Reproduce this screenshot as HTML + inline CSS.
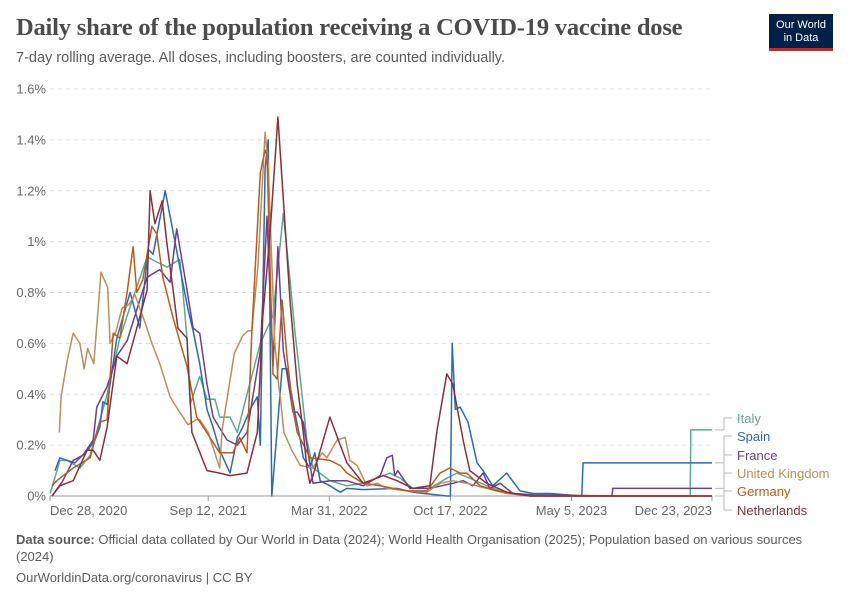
<!DOCTYPE html>
<html><head><meta charset="utf-8"><style>
body{margin:0;background:#fff;width:850px;height:600px;overflow:hidden;font-family:"Liberation Sans",sans-serif}
#title{position:absolute;left:16px;top:14px;font-family:"Liberation Serif",serif;font-weight:bold;font-size:24.5px;color:#4b4b4b;letter-spacing:-0.2px}
#sub{position:absolute;left:16px;top:50px;font-size:14.5px;color:#5b5b5b}
#logo{position:absolute;left:769px;top:14px;width:64px;height:37px;background:#002147;border-bottom:3px solid #ce261e;box-sizing:border-box;color:#fff;font-size:11px;text-align:center;line-height:13px;padding-top:5px}
#foot{position:absolute;left:16px;top:532px;font-size:13px;color:#5b5b5b;line-height:16.5px;width:800px}
#foot2{position:absolute;left:16px;top:570px;font-size:13px;color:#5b5b5b}
svg{position:absolute;left:0;top:0}
</style></head><body>
<div id="title">Daily share of the population receiving a COVID-19 vaccine dose</div>
<div id="sub">7-day rolling average. All doses, including boosters, are counted individually.</div>
<div id="logo">Our World<br>in Data</div>
<div id="foot"><b>Data source:</b> Official data collated by Our World in Data (2024); World Health Organisation (2025); Population based on various sources (2024)</div>
<div id="foot2">OurWorldinData.org/coronavirus | CC BY</div>
<svg id="chart" width="850" height="600"></svg>
<script>
const yTicks=[0,0.2,0.4,0.6,0.8,1,1.2,1.4,1.6];
const yTickLabels=["0%","0.2%","0.4%","0.6%","0.8%","1%","1.2%","1.4%","1.6%"];
const xTickDays=[0,258,458,658,858,1090];
const xTickLabels=["Dec 28, 2020","Sep 12, 2021","Mar 31, 2022","Oct 17, 2022","May 5, 2023","Dec 23, 2023"];
const seriesNames=["Italy","Spain","France","United Kingdom","Germany","Netherlands"];
const seriesColors=["#58ac8c","#286bbb","#6d3e91","#bc8e5a","#c05917","#883039"];
const italyDays=[-3,13,25,46,63,91,112,134,157,173,190,211,216,223,228,244,256,269,277,294,306,322,344,365,382,393,401,410,421,431,459,487,514,558,575,596,624,652,669,690,718,740,761,790,1054,1055,1090];
const italyVals=[0.01,0.14,0.14,0.11,0.16,0.4,0.62,0.78,0.94,0.92,0.9,0.93,0.81,0.62,0.36,0.47,0.38,0.38,0.31,0.31,0.25,0.4,0.6,0.71,1.11,0.85,0.65,0.46,0.22,0.11,0.06,0.04,0.05,0.09,0.07,0.03,0.03,0.07,0.09,0.07,0.04,0.02,0.01,0,0,0.26,0.26];
const spainDays=[5,13,25,38,46,59,71,79,84,91,96,107,129,145,159,167,187,195,211,225,233,244,256,266,277,294,306,315,327,339,344,352,357,363,380,388,401,410,415,426,434,443,459,476,487,514,570,596,652,658,661,666,674,687,702,712,728,751,773,794,822,875,877,1090];
const spainVals=[0.1,0.15,0.14,0.13,0.15,0.18,0.22,0.27,0.37,0.36,0.44,0.62,0.8,0.66,0.97,0.95,1.2,1.1,0.9,0.73,0.65,0.52,0.34,0.27,0.18,0.09,0.23,0.27,0.34,0.39,0.2,1.29,1.4,0,0.5,0.5,0.33,0.22,0.15,0.11,0.17,0.06,0.04,0.015,0.03,0.025,0.03,0.015,0,0,0.6,0.34,0.35,0.29,0.13,0.1,0.04,0.09,0.02,0.01,0.01,0,0.13,0.13];
const franceDays=[0,18,35,51,68,74,91,107,124,145,157,178,195,206,223,233,244,256,266,289,306,322,344,355,365,373,382,398,405,415,421,431,459,487,514,542,553,562,566,571,591,624,662,679,695,712,723,740,761,794,925,926,1090];
const franceVals=[0,0.06,0.14,0.16,0.22,0.35,0.43,0.55,0.61,0.77,0.86,0.89,0.84,1.05,0.81,0.66,0.64,0.44,0.31,0.22,0.2,0.25,0.57,1.1,0.51,0.98,0.57,0.33,0.33,0.29,0.2,0.05,0.06,0.06,0.04,0.08,0.15,0.16,0.08,0.1,0.03,0.03,0.05,0.06,0.04,0.09,0.03,0.05,0.01,0.005,0,0.03,0.03];
const ukDays=[12,15,25,35,46,53,59,69,81,92,96,106,116,126,137,154,165,178,195,208,225,238,244,258,277,281,301,315,324,330,340,352,357,368,375,377,383,396,410,431,446,454,471,484,492,504,520,537,553,586,619,641,662,685,718,751,794,1090];
const ukVals=[0.25,0.39,0.53,0.64,0.6,0.5,0.58,0.52,0.88,0.82,0.6,0.65,0.74,0.75,0.79,0.68,0.6,0.52,0.39,0.34,0.28,0.3,0.3,0.25,0.11,0.26,0.56,0.63,0.65,0.65,0.9,1.43,1.3,0.6,0.42,0.39,0.25,0.18,0.12,0.11,0.17,0.15,0.22,0.23,0.14,0.12,0.04,0.05,0.03,0.02,0.015,0.05,0.06,0.05,0.03,0.01,0,0];
const germanyDays=[0,8,35,63,79,91,101,112,124,134,140,150,165,173,183,200,223,239,261,277,299,310,322,330,344,352,355,365,372,380,388,398,405,426,459,476,487,514,542,586,619,641,657,674,685,707,735,761,789,1090];
const germanyVals=[0.04,0.06,0.11,0.15,0.29,0.3,0.64,0.62,0.8,0.98,0.8,0.85,1.06,1.03,0.86,0.7,0.51,0.31,0.23,0.17,0.17,0.23,0.17,0.64,1.27,1.36,1.34,0.48,0.46,0.77,0.55,0.34,0.25,0.15,0.14,0.12,0.09,0.05,0.04,0.02,0.02,0.09,0.11,0.09,0.09,0.04,0.02,0.01,0,0];
const netherlandsDays=[0,13,35,58,68,79,91,107,124,140,157,162,170,182,190,200,208,223,231,256,277,294,322,339,348,360,373,393,405,415,421,426,431,459,487,514,547,570,596,624,636,652,662,679,690,718,751,789,1090];
const netherlandsVals=[0,0.04,0.06,0.18,0.18,0.14,0.27,0.55,0.52,0.66,0.81,1.2,1.07,1.16,0.99,0.81,0.66,0.62,0.25,0.1,0.09,0.08,0.09,0.25,0.7,1.03,1.49,0.77,0.44,0.25,0.11,0.05,0.08,0.31,0.13,0.05,0.08,0.06,0.03,0.04,0.26,0.48,0.44,0.22,0.1,0.05,0.015,0,0];
const seriesDays=[italyDays,spainDays,franceDays,ukDays,germanyDays,netherlandsDays];
const seriesVals=[italyVals,spainVals,franceVals,ukVals,germanyVals,netherlandsVals];

const X0=52,X1=712,D1=1090,Y0=496,Y1=89,VMAX=1.6;
function xs(d){return X0+(d/D1)*(X1-X0);}
function ys(v){return Y0-(v/VMAX)*(Y0-Y1);}
const svg=document.getElementById('chart');
const NS='http://www.w3.org/2000/svg';
function mk(t,a){const e=document.createElementNS(NS,t);for(const k in a)e.setAttribute(k,a[k]);svg.appendChild(e);return e;}
yTicks.forEach((v,i)=>{
  if(i>0){const g=mk('line',{x1:50,x2:X1,y1:ys(v),y2:ys(v),stroke:'#dddddd','stroke-dasharray':'4,4'});
  
  }
  const t=mk('text',{x:46,y:ys(v)+4.5,'text-anchor':'end','font-size':13,fill:'#666','font-family':'Liberation Sans, sans-serif'});
  t.textContent=yTickLabels[i];
  
  
});
const ax=mk('line',{x1:50,x2:X1,y1:Y0,y2:Y0,stroke:'#999'});


xTickDays.forEach((d,i)=>{
  const x=i===0?50:xs(d);
  const tk=mk('line',{x1:x,x2:x,y1:Y0,y2:Y0+5,stroke:'#999'});
  
  
  const anchor=i===0?'start':(i===xTickDays.length-1?'end':'middle');
  const t=mk('text',{x:x,y:Y0+19,'text-anchor':anchor,'font-size':13,fill:'#666','font-family':'Liberation Sans, sans-serif'});
  t.textContent=xTickLabels[i];
  
  
});
const labelY=[418,436,455,473,491,510];
seriesNames.forEach((n,i)=>{
  const pts=seriesDays[i].map((d,j)=>xs(d).toFixed(1)+','+ys(seriesVals[i][j]).toFixed(1)).join(' ');
  const p=mk('polyline',{points:pts,fill:'none',stroke:seriesColors[i],'stroke-width':1.5,'stroke-linejoin':'round'});
  
  
  const vals=seriesVals[i];const ey=ys(vals[vals.length-1]);
  const c=mk('polyline',{points:`${X1+3},${ey} ${X1+12},${ey} ${X1+12},${labelY[i]} ${X1+20},${labelY[i]}`,fill:'none',stroke:'#bbb','stroke-width':1});
  
  
  const t=mk('text',{x:737,y:labelY[i]+5,'font-size':13,fill:seriesColors[i],'font-family':'Liberation Sans, sans-serif'});
  t.textContent=n;
  
  
});
</script>
</body></html>
